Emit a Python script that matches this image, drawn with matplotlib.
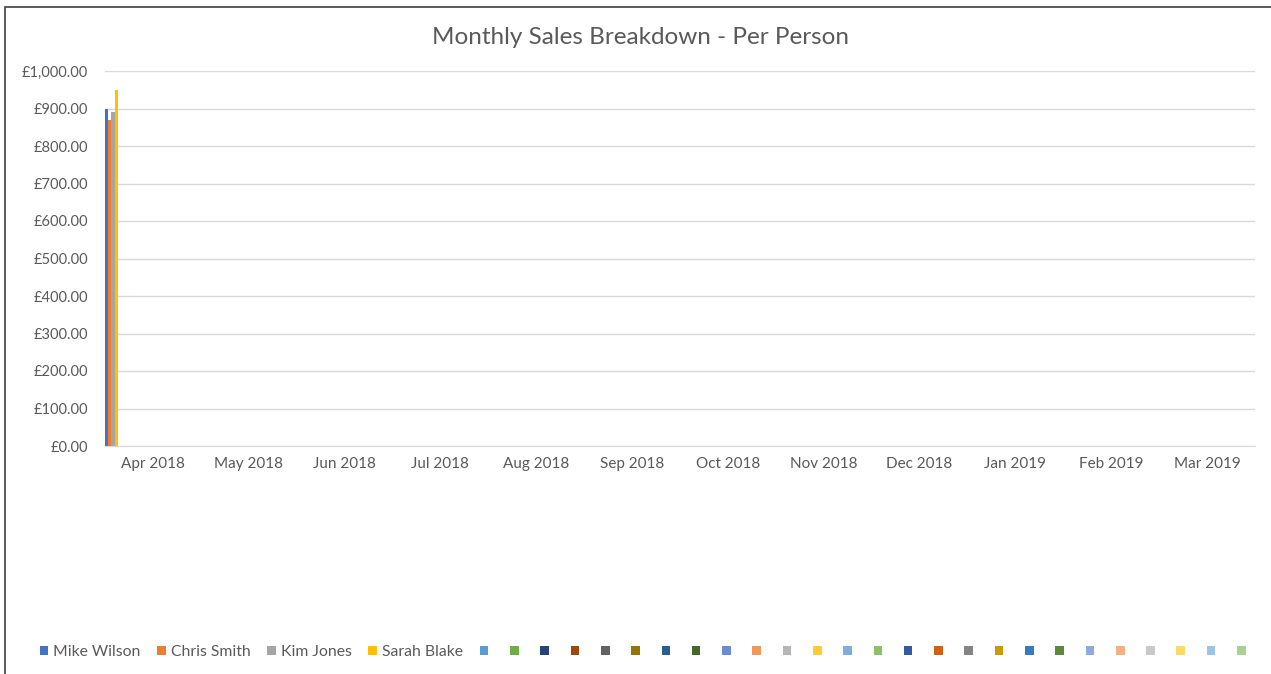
import numpy as np
import matplotlib.pyplot as plt
from matplotlib.patches import Rectangle
from matplotlib.ticker import FuncFormatter, MultipleLocator

plt.rcParams['font.family'] = ['Lato', 'DejaVu Sans']

months = ['Apr 2018', 'May 2018', 'Jun 2018', 'Jul 2018', 'Aug 2018', 'Sep 2018',
          'Oct 2018', 'Nov 2018', 'Dec 2018', 'Jan 2019', 'Feb 2019', 'Mar 2019']
people = ['Mike Wilson', 'Chris Smith', 'Kim Jones', 'Sarah Blake']
# sales only recorded for April so far
mike = [900] + [0] * 11
chris = [870] + [0] * 11
kim = [890] + [0] * 11
sarah = [950] + [0] * 11
named_values = [mike, chris, kim, sarah]
n_empty = 26  # extra unnamed series in the sheet

colors = ['#4472C4', '#ED7D31', '#A5A5A5', '#FFC000', '#5B9BD5', '#70AD47',
          '#264478', '#9E480E', '#636363', '#997300', '#255E91', '#43682B',
          '#698ED0', '#F1975A', '#B7B7B7', '#FFCD33', '#7CAFDD', '#8CC168',
          '#335AA1', '#D26012', '#848484', '#CC9A00', '#327DC2', '#5A8A39',
          '#8FAADC', '#F4B183', '#C9C9C9', '#FFD966', '#9DC3E6', '#A9D18E']

series = named_values + [[0] * 12 for _ in range(n_empty)]
labels = people + [''] * n_empty
n = len(series)
w = 1.0 / n

fig = plt.figure(figsize=(12.71, 6.74), dpi=100)
ax = fig.add_axes([105 / 1271, 1 - 446 / 674, 1150 / 1271, 375 / 674])

x = np.arange(len(months))
handles = []
for i, vals in enumerate(series):
    b = ax.bar(x - 0.5 + w * (i + 0.5), vals, width=w, color=colors[i % len(colors)],
               linewidth=0)
    handles.append(b)

ax.set_xlim(-0.5, len(months) - 0.5)
ax.set_ylim(0, 1000)
ax.yaxis.set_major_locator(MultipleLocator(100))
ax.yaxis.set_major_formatter(FuncFormatter(lambda v, p: '£{:,.2f}'.format(v)))
ax.set_xticks(x)
ax.set_xticklabels(months)
ax.grid(axis='y', color='#D9D9D9', linewidth=1)
ax.set_axisbelow(True)
for s in ['top', 'right', 'left']:
    ax.spines[s].set_visible(False)
ax.spines['bottom'].set_color('#D9D9D9')
ax.tick_params(axis='both', length=0, labelsize=11, labelcolor='#595959')
ax.tick_params(axis='y', pad=12, labelsize=10.5)
ax.tick_params(axis='x', pad=8)

fig.text(641 / 1271, 1 - 37 / 674, 'Monthly Sales Breakdown - Per Person',
         ha='center', va='center', fontsize=17.5, color='#595959')

leg = fig.legend(handles, labels, loc='center', bbox_to_anchor=(645 / 1271, 1 - 652 / 674),
                 ncol=n, frameon=False, fontsize=11.3, handlelength=0.55,
                 handleheight=0.45, handletextpad=0.3, columnspacing=1.08, borderpad=0)
for t in leg.get_texts():
    t.set_color('#595959')

fig.patches.append(Rectangle((5 / 1271, -0.05), 1.1, 1.05 - 6.5 / 674,
                             transform=fig.transFigure, fill=False,
                             edgecolor='#404040', linewidth=1.2))

fig.savefig('out.png', dpi=100)
